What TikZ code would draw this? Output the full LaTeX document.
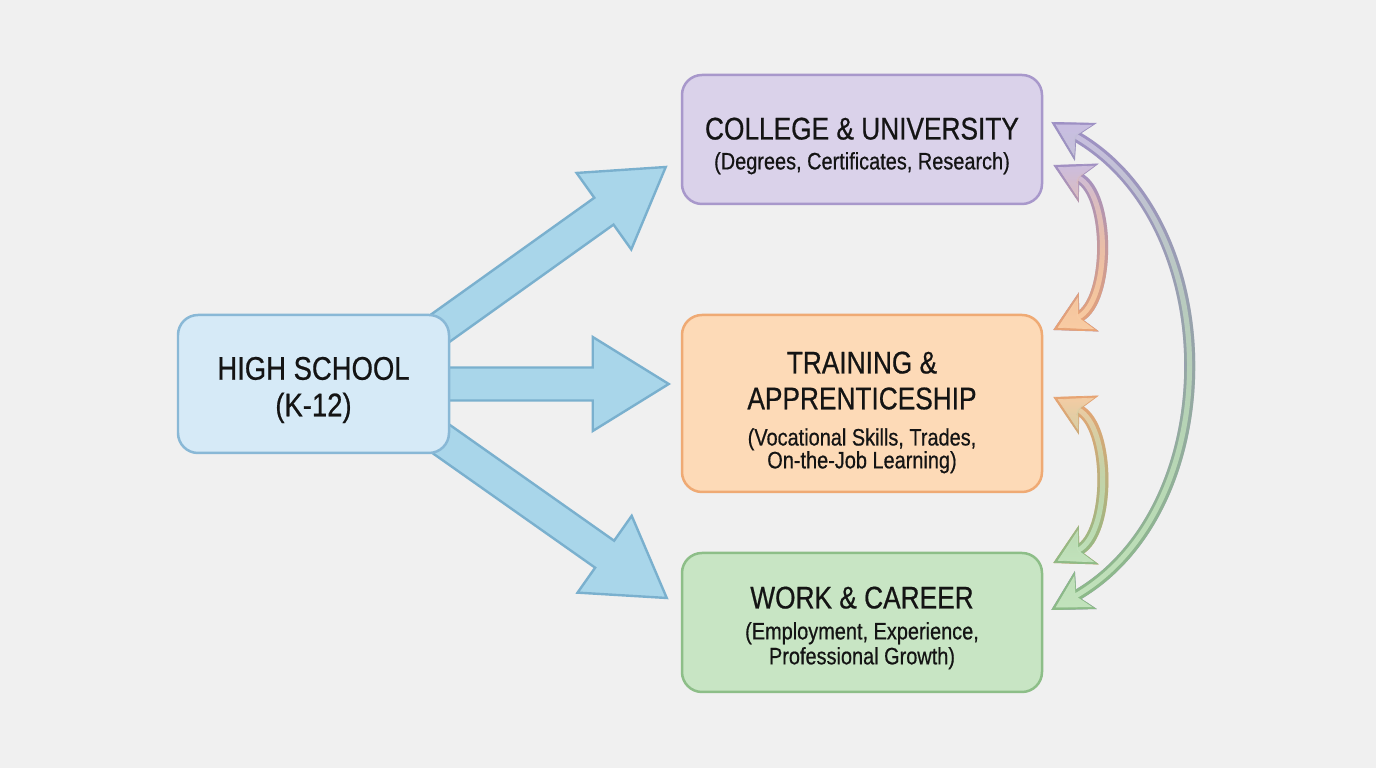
\documentclass[tikz,border=0pt]{standalone}
\usepackage{fontspec}
\newfontfamily\boxfont{Liberation Sans}[FakeStretch=0.84, FakeBold=0.6]
\usetikzlibrary{calc,arrows.meta,fadings}

\pgfdeclarelayer{bg}
\pgfdeclarelayer{under}
\pgfsetlayers{bg,under,main}

\definecolor{bgcol}{HTML}{F0F0F0}
\definecolor{hsfill}{HTML}{D6EAF7}
\definecolor{hsline}{HTML}{89B8D6}
\definecolor{colfill}{HTML}{DAD2EA}
\definecolor{colline}{HTML}{A898CB}
\definecolor{trafill}{HTML}{FDDAB7}
\definecolor{traline}{HTML}{EFAA74}
\definecolor{wrkfill}{HTML}{C8E5C4}
\definecolor{wrkline}{HTML}{8DBE88}
\definecolor{arrfill}{HTML}{A9D6EA}
\definecolor{arrline}{HTML}{7AB0CE}
\definecolor{purline}{HTML}{9F90C6}
\definecolor{purfill}{HTML}{CBBFE4}
\definecolor{oraline}{HTML}{EBA473}
\definecolor{orafill}{HTML}{F9CDA5}
\definecolor{griline}{HTML}{8CBC87}
\definecolor{grifill}{HTML}{C3E3BD}
\definecolor{txtcol}{HTML}{141414}

\tikzfading[name=fadedown, top color=transparent!100, bottom color=transparent!0]

\newcommand{\boxtitle}{\fontsize{8.9}{9.4}\selectfont}
\newcommand{\boxsub}{\fontsize{6.75}{6.5}\selectfont}
\newcommand{\lift}[1]{\rule{0pt}{#1}}

% fat blue arrow from #1 to tip #2
\newcommand{\fatarrow}[2]{%
  \coordinate (fs) at (#1);
  \coordinate (ft) at (#2);
  \coordinate (fb) at ($(ft)!0.76cm!(fs)$);
  \draw[bigarrow] ($(fs)!0.165cm!-90:(ft)$) -- ($(fb)!0.165cm!-90:(ft)$)
    -- ($(fb)!0.47cm!-90:(ft)$) -- (ft) -- ($(fb)!0.47cm!90:(ft)$)
    -- ($(fb)!0.165cm!90:(ft)$) -- ($(fs)!0.165cm!90:(ft)$) -- cycle;
}

% two-way link, colour #1/#2 at the top, #3/#4 at the bottom
\newcommand{\linkarrow}[5]{%
  \draw[linkout=#1] #5;
  \draw[linkin=#2] #5;
  \draw[linkout=#3, path fading=fadedown] #5;
  \draw[linkin=#4, path fading=fadedown] #5;
}

\begin{document}
\begin{tikzpicture}[
  box/.style={rounded corners=0.2cm, line width=0.025cm, minimum width=3.6cm,
    inner sep=0pt, align=center, text=txtcol, font=\boxfont\boxsub},
  bigarrow/.style={fill=arrfill, draw=arrline, line width=0.024cm},
  linkout/.style={draw=#1, line width=0.11cm,
    >={Stealth[length=0.40cm, width=0.44cm, inset=0.11cm, fill=#1, line width=0.2pt]}, <->},
  linkin/.style={draw=#1, line width=0.05cm, shorten <=0.05cm, shorten >=0.05cm,
    >={Stealth[length=0.32cm, width=0.36cm, inset=0.09cm, fill=#1, line width=0.2pt]}, <->}
]
\begin{pgfonlayer}{bg}
\fill[bgcol] (0,0) rectangle (13.76,7.68);
\end{pgfonlayer}

\node[box, fill=hsfill, draw=hsline, minimum width=2.71cm, minimum height=1.38cm,
  font=\boxfont\fontsize{9.3}{10.4}\selectfont] (hs) at (3.135,3.84) {\lift{9.9pt}HIGH SCHOOL\\(K-12)};
\node[box, fill=colfill, draw=colline, minimum height=1.29cm] (col) at (8.62,6.285)
  {{\boxtitle\lift{9.9pt}COLLEGE \& UNIVERSITY}\\[2pt](Degrees, Certificates, Research)};
\node[box, fill=trafill, draw=traline, minimum height=1.77cm] (tra) at (8.62,3.645)
  {{\boxtitle\lift{11.3pt}TRAINING \&}\\[3.7pt]{\boxtitle APPRENTICESHIP}\\[3.8pt](Vocational Skills, Trades,\\On-the-Job Learning)};
\node[box, fill=wrkfill, draw=wrkline, minimum height=1.39cm] (wrk) at (8.62,1.455)
  {{\boxtitle\lift{9.3pt}WORK \& CAREER}\\[2.3pt](Employment, Experience,\\[0.6pt]Professional Growth)};

\begin{pgfonlayer}{under}
\fatarrow{$(hs)+(0.865,0.27)$}{$(col.west)+(-0.15,-0.275)$}
\fatarrow{$(hs)+(0.865,0)$}{$(tra.west |- hs)+(-0.12,0)$}
\fatarrow{$(hs)+(0.865,-0.26)$}{$(wrk.west)+(-0.14,0.245)$}
\end{pgfonlayer}

\linkarrow{purline}{purfill}{oraline}{orafill}
  {($(col.east)+(0.10,-0.255)$) to[out=-27, in=27, looseness=1.0] ($(tra.east)+(0.10,0.735)$)}
\linkarrow{oraline}{orafill}{griline}{grifill}
  {($(tra.east)+(0.10,0.065)$) to[out=-27, in=27, looseness=1.0] ($(wrk.east)+(0.10,0.595)$)}
\linkarrow{purline}{purfill}{griline}{grifill}
  {($(col.east)+(0.08,0.175)$) to[out=-30, in=30, looseness=1.07] ($(wrk.east)+(0.08,0.125)$)}
\end{tikzpicture}
\end{document}
